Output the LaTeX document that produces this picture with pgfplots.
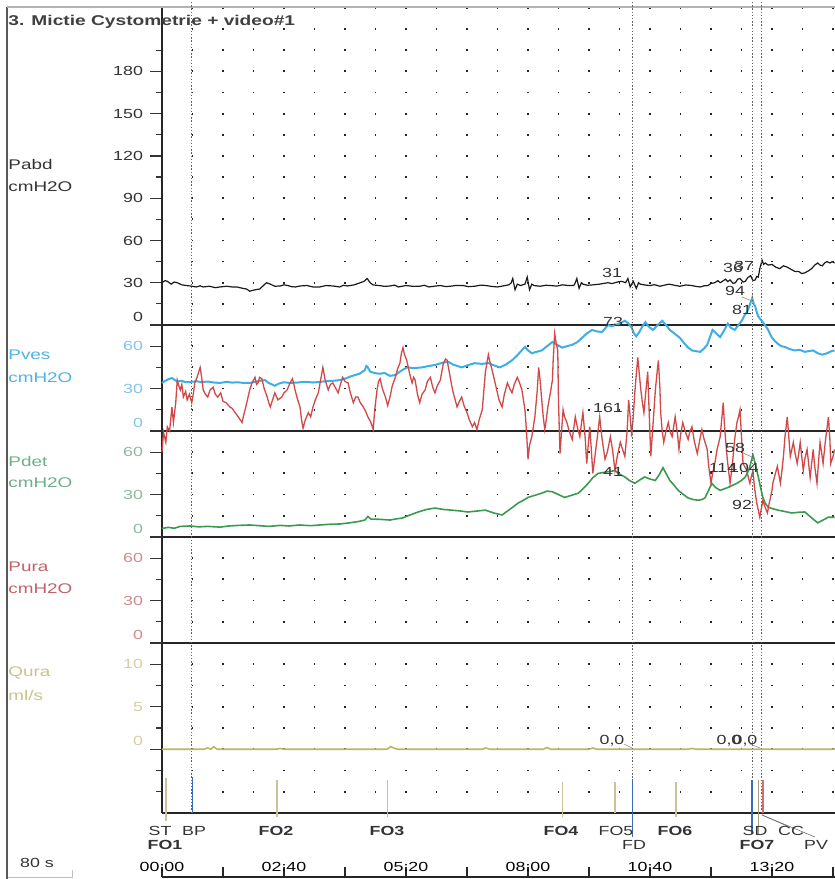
\documentclass[border=0pt]{standalone}
\usepackage{fontspec}
\setmainfont{Liberation Sans}[FakeStretch=1.35]
\usepackage{pgfplots}
\pgfplotsset{compat=1.18}
\definecolor{cabd}{HTML}{1A1A1A}
\definecolor{cves}{HTML}{40AEE5}
\definecolor{cdet}{HTML}{3A9A50}
\definecolor{cura}{HTML}{D04848}
\definecolor{cqura}{HTML}{B8B860}
\definecolor{labd}{HTML}{333333}
\definecolor{lves}{HTML}{4DB3E6}
\definecolor{ldet}{HTML}{6DAE8C}
\definecolor{lura}{HTML}{C0606A}
\definecolor{lqura}{HTML}{C8C48A}
\definecolor{tves}{HTML}{80C4EA}
\definecolor{tdet}{HTML}{8FB8A0}
\definecolor{tura}{HTML}{D08A90}
\definecolor{tqura}{HTML}{D4D0A0}
\definecolor{evol}{HTML}{C8C49A}
\definecolor{evblue}{HTML}{3A6AB8}
\definecolor{evred}{HTML}{D07070}
\newcommand\fs{\fontsize{7}{8}\selectfont}
\newcommand\ft{\fontsize{6.6}{7.5}\selectfont}
\pgfplotsset{
  panel/.style={
    scale only axis, width=336.5pt, xmin=0, xmax=882.6,
    anchor=south west,
    axis x line*=bottom, axis y line*=left,
    axis line style={-, line width=0.7pt, black!85},
    xtick={40,80,...,880}, xticklabels={}, xtick style={draw=none},
    xmajorgrids,
    tick align=outside, major tick length=6pt, minor tick length=3pt,
    ytick style={line width=0.6pt, black!80},
    minor tick style={line width=0.6pt, black!80},
    /pgf/number format/assume math mode=true,
    yticklabel style={font=\ft},
    extra y ticks={0},
    extra y tick style={tick label style={yshift=4pt}},
    clip=false,
  },
  dots/.style={major grid style={draw=black!85, line width=0.9pt, dash pattern=on 0.9pt off #1, dash phase=0.45pt}},
}
\begin{document}
\begin{tikzpicture}
\useasboundingbox (0,0) rectangle (417.5pt,439.5pt);
% frame
\draw[black!65, line width=0.6pt] (3.5pt,0pt) -- (3.5pt,436pt);
\draw[black!30, line width=0.6pt] (3.5pt,436pt) -- (417.5pt,436pt);
\draw[black!25, line width=0.4pt] (4pt,1pt) -- (36pt,1pt) -- (36pt,4.5pt);

% ---------- Pabd ----------
\begin{axis}[panel, dots=9.6667pt, at={(81pt,277pt)}, height=158.5pt,
  ymin=0, ymax=225, ytick={30,60,...,180}, minor ytick={15,45,...,195},
  yticklabel style={color=labd}]
\addplot[cabd, line width=0.6pt] coordinates {
(0,30) (4,31.5) (7,31) (12,29) (16,30.5) (20,30) (26,28.5) (32,28) (37,27.7) (45,27) (50,27.8) (54,27) (62,27.5) (70,26.5) (76,27) (85,27.5) (92,27) (98,27) (106,26) (111,25.5) (115,24) (122,25) (128,25.5) (133,28) (137,30) (142,29) (148,27.5) (155,27.7) (160,28.5) (165,28) (170,27.2) (175,27) (181,27.7) (190,28) (198,27) (207,27) (215,28) (224,27.7) (233,27) (238,28.2) (243,27.7) (252,28.5) (260,30) (265,31) (269,33) (273,30) (277,28.4) (285,28) (292,27.4) (299,27.7)
(305,28.3) (310,27) (320,28) (330,27.4) (338,27.5) (344,28.2) (350,27) (358,27.6) (365,28) (372,27.3) (378,27.5) (386,28.1) (395,28) (402,27.2) (410,27.5) (418,28.3) (425,28) (432,27.4) (440,27) (448,27.8) (455,28.5) (458,30) (460,33) (463,25) (466,29) (470,28) (476,29) (479,34) (482,25) (485,29) (488,28) (496,27.5) (503,28.2) (510,28) (518,27.6) (525,28.5) (533,28) (540,28) (542,30) (544,33) (547,26) (550,30) (552,29) (558,28.2) (565,28.5) (574,29) (580,29.6) (585,30) (590,29.4) (594,30) (598,30.6) (603,31) (608,30) (611,33) (614,27) (618,31) (622,26) (625,30) (627,29) (633,28.4) (640,28) (646,28.6) (653,27.5) (659,28.3) (665,29) (672,28.2) (679,27.5) (687,28.4) (695,28) (700,27.4) (706,27) (711,27.8) (716,28) (720,29.5) (725,30) (729,31.5) (732,30) (735,31) (739,32.5) (742,30.8) (745,32) (749,29.5) (752,30) (755,32.5) (758,33) (762,30.5) (765,31) (768,33.5) (772,35) (775,31.5) (778,32) (780,34.5) (782,34) (784,40) (787,46) (789,43) (791,44) (795,42.5) (800,43) (805,41) (810,40) (815,42) (820,41) (825,39.5) (830,38) (835,38) (839,36.5) (843,37) (848,38.5) (852,40) (856,42.5) (860,44) (863,42.5) (866,42) (869,44) (872,45) (876,44) (879,45) (882,44)};
\end{axis}

% ---------- Pves ----------
\begin{axis}[panel, dots=9.7pt, at={(81pt,224pt)}, height=53pt,
  ymin=0, ymax=75, ytick={30,60}, minor ytick={15,45},
  yticklabel style={color=tves}]
\addplot[cves, line width=1pt] coordinates {
(0,34) (4,35.5) (8,36.5) (13,37.5) (17,36) (20,35) (26,35.5) (31,34.5) (37,34.7) (45,35.2) (52,34.6) (60,35) (68,34.3) (76,34) (85,34.8) (92,34.2) (98,34.5) (106,34.1) (115,34) (122,34.8) (128,35.5) (135,36) (140,34) (144,33) (148,32) (153,33.5) (160,34.5) (168,34) (178,34.3) (188,34.8) (198,34.3) (207,34.7) (215,35.3) (224,35.5) (233,36) (240,37) (247,38.5) (253,39.6) (259,40.5) (263,42) (266,43) (268,46) (270,45) (273,42) (279,41) (285,40.5) (292,41) (299,39) (306,39.6) (312,42) (318,44) (322,45) (330,44.5) (341,45) (350,46) (358,46.7) (366,48) (375,49) (382,47) (393,45) (401,46.5) (410,48) (419,47.5) (428,48) (435,46.5) (443,45) (451,47) (459,50) (465,53) (470,56) (476,59.5) (480,57) (485,55) (491,56) (498,57) (505,60) (512,63) (518,61) (525,59) (531,60) (538,61) (545,63) (551,66) (557,69) (564,71.5) (570,70.5) (577,70) (581,72.5) (585,75) (590,74) (594,75) (600,76) (607,78) (612,76) (616,73) (619,69) (622,67) (626,70) (630,74) (634,77) (638,74) (644,71.5) (650,75) (656,78) (661,75) (666,71.5) (672,69) (679,66) (685,62) (690,59) (695,57) (700,56.5) (706,56) (711,58.5) (715,61) (719,67) (722,71.5) (727,69) (732,66.5) (737,71) (742,76) (746,73) (751,71.5) (756,75) (761,78.6) (764,82) (767,84) (770,88) (772,91) (774,94) (776,90) (778,88) (780,84) (782,81) (785,79) (788,77) (792,74) (795,71.5) (798,68) (800,66) (804,63.5) (807,62) (812,60) (817,59.5) (823,58) (830,57) (836,57.5) (843,56) (848,56.5) (854,57) (860,55) (866,54) (872,55) (878,56.5) (882,57)};
\end{axis}

% ---------- Pdet ----------
\begin{axis}[panel, dots=9.7pt, at={(81pt,171pt)}, height=53pt,
  ymin=0, ymax=75, ytick={30,60}, minor ytick={15,45},
  yticklabel style={color=tdet}]
\addplot[cdet, line width=0.8pt] coordinates {
(0,6) (8,6.8) (16,6.2) (24,7.5) (37,7.8) (48,7.2) (60,7.5) (76,7) (88,7.8) (100,8.2) (115,8.5) (128,8.0) (140,7.5) (155,8.2) (167,7.8) (180,8.5) (195,8.0) (207,8.5) (220,9) (233,9.2) (246,10) (258,11) (266,12) (270,14.5) (274,12.7) (286,12.5) (299,12) (307,12.8) (315,13.4) (325,15.5) (336,17.7) (347,19.5) (358,20.5) (369,19.5) (380,19) (390,18.5) (401,17.7) (412,18.3) (424,19) (435,17) (446,15.6) (456,19.5) (467,24) (474,26) (480,28) (489,29.5) (498,31) (505,32.5) (512,32) (520,30) (528,28) (537,29.5) (546,31) (552,34) (559,38) (565,42) (572,45) (583,46) (594,47) (600,44.5) (607,42.5) (613,40) (620,38) (627,40.5) (633,42.5) (640,41) (647,40) (652,44) (657,49) (661,45) (666,40) (671,37) (677,33) (684,30) (690,27.6) (697,26.5) (703,26) (708,26.5) (712,27.6) (716,32) (721,38) (726,35) (732,33) (737,34) (742,35) (748,36.5) (754,38) (760,40) (765,42.5) (770,48) (775,58) (778,52) (782,42.5) (785,35) (788,28) (791,24) (795,21) (801,20) (808,19) (817,18) (826,17) (835,17.5) (843,17.7) (851,14) (860,10) (867,12) (874,14) (882,14)};
\end{axis}

% ---------- Pura ----------
\begin{axis}[panel, dots=9.7pt, at={(81pt,118pt)}, height=53pt,
  ymin=0, ymax=75, ytick={30,60}, minor ytick={15,45},
  yticklabel style={color=tura}]
\addplot[cura, line width=0.65pt] coordinates {
(0,135) (2,149) (5,142) (7,153) (10,150) (13,167) (15,156) (18,170) (20,186) (22,182) (24,179) (26,183) (28,174) (31,178) (33,172) (36,176) (39,170) (41,176) (43,184) (46,188) (50,195) (52,188) (54,179) (57,176) (60,174) (63,179) (67,181) (70,176) (73,174) (77,177) (80,171) (84,170) (89,167) (92,166) (96,163) (100,160) (105,156) (107,161) (109,165) (112,172) (115,179) (118,184) (122,188) (124,183) (126,184) (128,188) (131,187) (134,180) (138,174) (140,170) (142,167) (145,172) (148,177) (152,172) (157,174) (160,177) (164,179) (168,184) (171,187) (173,183) (174,180) (178,172) (181,167) (183,158) (185,152) (188,158) (192,163) (195,160) (198,167) (201,172) (205,177) (208,186) (211,195) (214,186) (218,179) (221,183) (224,184) (228,180) (231,177) (234,183) (237,188) (240,185) (244,184) (247,177) (251,170) (254,174) (257,174) (260,170) (264,167) (267,164) (270,160) (274,156) (277,151) (279,165) (282,179) (284,185) (286,187) (289,180) (293,174) (296,168) (299,174) (302,182) (306,188) (309,194) (312,198) (314,205) (316,209) (318,204) (321,200) (325,190) (328,184) (330,188) (332,186) (335,176) (338,170) (341,176) (345,179) (348,185) (352,188) (355,181) (358,177) (361,182) (365,186) (367,192) (369,198) (372,201) (374,200) (376,194) (378,188) (380,182) (382,177) (385,171) (387,167) (390,171) (393,174) (396,168) (400,163) (403,158) (407,153) (410,156) (413,151) (416,158) (420,165) (422,178) (424,191) (426,198) (428,204) (430,199) (433,193) (436,186) (439,179) (442,172) (446,167) (449,176) (453,184) (456,180) (459,177) (462,183) (466,188) (469,184) (472,179) (474,172) (476,165) (478,150) (480,130) (482,140) (485,146) (487,153) (489,160) (492,178) (494,195) (496,185) (498,172) (500,160) (502,151) (504,158) (506,167) (509,176) (512,186) (513,200) (515,219) (517,212) (519,207) (520,170) (522,134) (524,150) (526,165) (528,160) (531,156) (534,150) (538,144) (540,152) (542,160) (545,152) (548,146) (550,155) (552,163) (555,145) (557,127) (559,140) (561,153) (563,137) (565,120) (568,133) (571,146) (574,160) (577,145) (581,130) (584,135) (588,146) (591,136) (594,122) (597,132) (601,142) (604,137) (607,132) (610,150) (612,172) (614,160) (616,146) (618,160) (620,177) (622,190) (624,202) (626,190) (628,179) (630,170) (632,163) (634,175) (637,192) (639,162) (641,132) (644,155) (647,179) (649,190) (651,200) (653,180) (654,163) (656,150) (658,142) (661,150) (664,156) (666,150) (669,146) (671,153) (673,160) (676,148) (678,137) (680,147) (683,156) (686,150) (690,144) (692,149) (695,153) (698,143) (702,134) (705,143) (708,151) (711,144) (715,137) (717,125) (720,113) (722,120) (725,127) (728,137) (732,146) (734,158) (736,170) (738,151) (741,132) (743,122) (745,113) (747,122) (749,132) (751,144) (754,156) (756,160) (758,165) (760,146) (762,127) (764,125) (767,122) (769,117) (771,113) (773,118) (775,122) (777,110) (780,99) (782,94) (784,89) (786,95) (788,101) (791,96) (794,92) (796,98) (798,103) (800,108) (801,113) (804,119) (807,125) (809,119) (811,113) (813,122) (815,132) (817,146) (820,160) (822,146) (824,132) (826,137) (828,142) (830,135) (833,127) (835,134) (837,142) (839,132) (841,122) (843,130) (846,137) (848,127) (850,117) (852,127) (854,137) (856,125) (859,113) (861,128) (863,142) (865,135) (867,127) (870,143) (874,160) (876,143) (877,127) (880,132) (882,137)};
\end{axis}

% ---------- Qura + events ----------
\begin{axis}[panel, dots=9.725pt, at={(81pt,33pt)}, height=85pt,
  ymin=-7.5, ymax=12.5, ytick={5,10}, minor ytick={-5,-2.5,2.5,7.5},
  yticklabel style={color=tqura}]
\addplot[cqura, line width=0.8pt] coordinates {
(0,0) (55,0) (60,0.15) (64,0) (68,0.3) (72,0) (150,0) (155,0.1) (160,0) (295,0) (300,0.3) (305,0.1) (310,0) (420,0) (425,0.15) (430,0) (500,0) (505,0.2) (510,0) (560,0) (565,0.15) (570,0) (690,0) (695,0.1) (700,0) (882.6,0)};
% dotted marker lines (BP, FD, SD, end)
\addplot[black!60, line width=0.5pt, dash pattern=on 0.7pt off 0.9pt] coordinates {(39.3,-7.5) (39.3,88)};
\addplot[black!60, line width=0.5pt, dash pattern=on 0.7pt off 0.9pt] coordinates {(616.4,-7.5) (616.4,88)};
\addplot[black!60, line width=0.5pt, dash pattern=on 0.7pt off 0.9pt] coordinates {(773.8,-7.5) (773.8,88)};
\addplot[black!60, line width=0.5pt, dash pattern=on 0.7pt off 0.9pt] coordinates {(785.6,-7.5) (785.6,88)};
% event lines
\addplot[evol, line width=0.7pt] coordinates {(5,-8.4) (5,-3.4)};
\addplot[evblue, line width=0.8pt] coordinates {(40,-7.5) (40,-3.3)};
\addplot[evol, line width=0.7pt] coordinates {(151,-8.0) (151,-3.6)};
\addplot[evol, line width=0.7pt] coordinates {(296,-8.0) (296,-3.6)};
\addplot[evol, line width=0.7pt] coordinates {(525,-8.0) (525,-3.9)};
\addplot[evol, line width=0.7pt] coordinates {(594,-7.5) (594,-3.8)};
\addplot[evblue, line width=0.8pt] coordinates {(617,-10.3) (617,-3.5)};
\addplot[evol, line width=0.7pt] coordinates {(674,-8.0) (674,-3.8)};
\addplot[evblue, line width=0.8pt] coordinates {(774,-10.0) (774,-3.6)};
\addplot[evol!80!black, line width=0.7pt] coordinates {(782,-10.0) (782,-3.6)};
\addplot[evred, line width=0.9pt] coordinates {(788,-7.5) (788,-3.6)};
\end{axis}

% ---------- time axis ----------
\begin{axis}[scale only axis, width=336.5pt, height=5pt, at={(81pt,1pt)}, anchor=south west,
  xmin=0, xmax=882.6, ymin=0, ymax=1,
  axis x line*=bottom, axis y line=none,
  axis line style={-, line width=0.7pt, black!85},
  xtick={0,80,...,880},
  xticklabels={00:00,,02:40,,05:20,,08:00,,10:40,,13:20,},
  xticklabel pos=right, xtick pos=left,
  tick align=inside, major tick length=5pt,
  xtick style={line width=0.6pt, black!85},
  xticklabel style={font=\ft, anchor=south, yshift=-1pt},
  /pgf/number format/assume math mode=true]
\addplot[draw=none] coordinates {(0,0.5)};
\end{axis}

% leader lines
\draw[black!55, line width=0.3pt] (381pt, 32pt) -- (393.5pt, 26.5pt);
\draw[black!55, line width=0.3pt] (381pt, 32pt) -- (407.5pt, 21pt);
\draw[black!45, line width=0.3pt] (312pt, 67.5pt) -- (316pt, 65.5pt);
\draw[black!45, line width=0.3pt] (375pt, 67.5pt) -- (380pt, 65.5pt);
\draw[black!45, line width=0.3pt] (371pt, 291pt) -- (376pt, 289pt);
\draw[black!45, line width=0.3pt] (371.5pt, 213pt) -- (376pt, 211pt);

% channel labels
\begin{scope}[every node/.style={anchor=west, inner sep=0pt, font=\fs}]
\node[text=labd] at (4pt,357pt) {Pabd};
\node[text=labd] at (4pt,346pt) {cmH2O};
\node[text=lves] at (4pt,262pt) {Pves};
\node[text=lves] at (4pt,250.5pt) {cmH2O};
\node[text=ldet] at (4pt,209pt) {Pdet};
\node[text=ldet] at (4pt,198pt) {cmH2O};
\node[text=lura] at (4pt,156pt) {Pura};
\node[text=lura] at (4pt,145pt) {cmH2O};
\node[text=lqura] at (4pt,103pt) {Qura};
\node[text=lqura] at (4pt,92pt) {ml/s};
\node[text=black!75, font=\fontsize{7.1}{8}\selectfont\bfseries] at (4pt,428.5pt) {3. Mictie Cystometrie + video\#1};
\end{scope}

% event labels
\begin{scope}[every node/.style={inner sep=0pt, font=\ft, text=black!80}]
\node at (18.5pt,8pt) {80 s};
\node at (80pt,24pt) {ST};
\node at (97pt,24pt) {BP};
\node[font=\ft\bfseries] at (82.5pt,17pt) {FO1};
\node[font=\ft\bfseries] at (138pt,24pt) {FO2};
\node[font=\ft\bfseries] at (193.5pt,24pt) {FO3};
\node[font=\ft\bfseries] at (280.5pt,24pt) {FO4};
\node at (308pt,24pt) {FO5};
\node at (317pt,17pt) {FD};
\node[font=\ft\bfseries] at (337.5pt,24pt) {FO6};
\node at (377.5pt,24pt) {SD};
\node[font=\ft\bfseries] at (378.5pt,17pt) {FO7};
\node at (395.5pt,24pt) {CC};
\node at (408pt,17pt) {PV};
% value annotations
\node at (306pt,303pt) {31};
\node at (366.5pt,305.5pt) {36};
\node at (372pt,306.5pt) {37};
\node at (367.5pt,294pt) {94};
\node at (371pt,284.5pt) {81};
\node at (306.5pt,278.5pt) {73};
\node at (304pt,235.5pt) {161};
\node at (367.5pt,215.5pt) {58};
\node at (361.5pt,205.5pt) {114};
\node at (372pt,205.5pt) {104};
\node at (306.5pt,203.5pt) {41};
\node at (371pt,187pt) {92};
\node at (306pt,69pt) {0,0};
\node at (364.5pt,69pt) {0,0};
\node at (372.5pt,69pt) {0,0};
\end{scope}
\end{tikzpicture}
\end{document}
